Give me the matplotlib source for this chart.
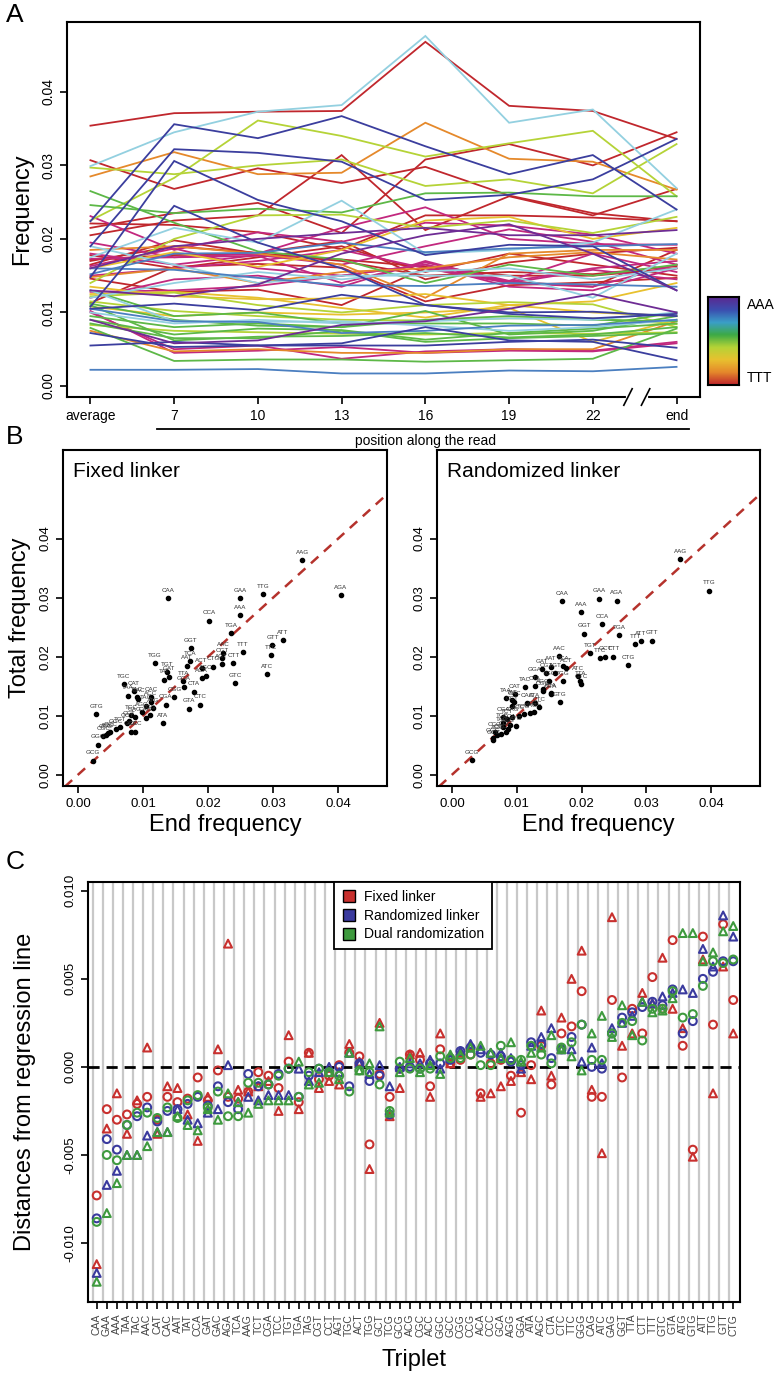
import numpy as np
import matplotlib
matplotlib.use("Agg")
import matplotlib.pyplot as plt
from matplotlib.colors import LinearSegmentedColormap
from matplotlib.transforms import blended_transform_factory

plt.rcParams['font.family'] = ['Liberation Sans', 'DejaVu Sans']

W, H = 775, 1376

def rect(x0, y0, x1, y1):
    return [x0 / W, 1 - y1 / H, (x1 - x0) / W, (y1 - y0) / H]

# ---------------- Panel A data ----------------
positions = ["average", "7", "10", "13", "16", "19", "22", "end"]

DR, MG, OR, YE = "#C0272D", "#C2287E", "#E5892B", "#E8C12F"
YG, GR, LB, BL = "#B5D337", "#5DB847", "#93D0E0", "#4B7FC0"
DB, PU = "#3B3E9E", "#6E2C94"

freq_lines = [
    (DR, [.0354, .0371, .0373, .0374, .0468, .0381, .0374, .0336]),
    (DR, [.0307, .0268, .0296, .0276, .0298, .0259, .0235, .0224]),
    (DR, [.0205, .0225, .0232, .0314, .0212, .0258, .0232, .0268]),
    (DR, [.0215, .0235, .0249, .0208, .0308, .0329, .0300, .0345]),
    (DR, [.0221, .0219, .0209, .0186, .0232, .0232, .0229, .0224]),
    (DR, [.0172, .0178, .0180, .0172, .0162, .0150, .0150, .0160]),
    (DR, [.0146, .0128, .0131, .0110, .0160, .0142, .0135, .0185]),
    (DR, [.0170, .0190, .0181, .0197, .0145, .0168, .0180, .0188]),
    (DR, [.0113, .0162, .0166, .0161, .0115, .0137, .0141, .0147]),
    (DR, [.0178, .0160, .0175, .0190, .0155, .0180, .0165, .0150]),
    (DR, [.0165, .0198, .0180, .0170, .0150, .0155, .0152, .0163]),
    (MG, [.0195, .0175, .0180, .0215, .0243, .0200, .0193, .0192]),
    (MG, [.0231, .0185, .0209, .0196, .0222, .0218, .0206, .0180]),
    (MG, [.0163, .0187, .0160, .0150, .0165, .0142, .0160, .0170]),
    (MG, [.0150, .0160, .0170, .0185, .0160, .0140, .0135, .0165]),
    (MG, [.0128, .0130, .0136, .0150, .0165, .0135, .0130, .0160]),
    (MG, [.0180, .0165, .0178, .0165, .0190, .0213, .0196, .0165]),
    (MG, [.0173, .0175, .0177, .0140, .0168, .0143, .0180, .0155]),
    (MG, [.0100, .0050, .0055, .0037, .0047, .0050, .0048, .0060]),
    (MG, [.0102, .0045, .0048, .0053, .0045, .0048, .0047, .0058]),
    (MG, [.0120, .0145, .0150, .0135, .0170, .0140, .0158, .0145]),
    (OR, [.0285, .0318, .0288, .0290, .0358, .0309, .0305, .0267]),
    (OR, [.0185, .0190, .0180, .0165, .0120, .0180, .0185, .0185]),
    (OR, [.0075, .0047, .0050, .0045, .0045, .0050, .0050, .0088]),
    (OR, [.0148, .0160, .0140, .0155, .0160, .0175, .0182, .0172]),
    (YE, [.0135, .0122, .0118, .0119, .0125, .0110, .0115, .0140]),
    (YE, [.0125, .0128, .0120, .0106, .0093, .0110, .0100, .0095]),
    (YE, [.0108, .0095, .0100, .0097, .0100, .0106, .0060, .0090]),
    (YE, [.0160, .0182, .0162, .0185, .0225, .0230, .0200, .0215]),
    (YG, [.0297, .0288, .0300, .0308, .0272, .0281, .0262, .0329]),
    (YG, [.0225, .0283, .0361, .0340, .0312, .0330, .0347, .0258]),
    (YG, [.0140, .0200, .0232, .0233, .0215, .0225, .0208, .0230]),
    (YG, [.0115, .0102, .0095, .0090, .0089, .0092, .0092, .0084]),
    (YG, [.0122, .0127, .0110, .0100, .0110, .0114, .0111, .0080]),
    (YG, [.0083, .0075, .0073, .0071, .0070, .0072, .0071, .0073]),
    (GR, [.0265, .0222, .0183, .0172, .0140, .0165, .0150, .0165]),
    (GR, [.0246, .0235, .0241, .0236, .0262, .0263, .0258, .0258]),
    (GR, [.0079, .0034, .0036, .0036, .0033, .0035, .0037, .0078]),
    (GR, [.0085, .0065, .0065, .0075, .0060, .0065, .0068, .0072]),
    (GR, [.0095, .0080, .0085, .0080, .0102, .0070, .0075, .0095]),
    (GR, [.0130, .0095, .0100, .0085, .0085, .0085, .0082, .0100]),
    (GR, [.0110, .0062, .0067, .0068, .0072, .0066, .0070, .0080]),
    (GR, [.0090, .0070, .0078, .0076, .0063, .0072, .0078, .0085]),
    (GR, [.0112, .0090, .0082, .0080, .0090, .0095, .0090, .0088]),
    (LB, [.0299, .0345, .0373, .0382, .0476, .0358, .0376, .0269]),
    (LB, [.0175, .0215, .0195, .0252, .0180, .0185, .0195, .0240]),
    (LB, [.0120, .0140, .0155, .0145, .0156, .0160, .0145, .0160]),
    (LB, [.0100, .0085, .0090, .0085, .0088, .0092, .0090, .0100]),
    (LB, [.0190, .0165, .0140, .0150, .0150, .0150, .0120, .0180]),
    (LB, [.0130, .0088, .0087, .0088, .0082, .0075, .0080, .0090]),
    (BL, [.0160, .0158, .0147, .0137, .0136, .0140, .0138, .0135]),
    (BL, [.0105, .0088, .0087, .0072, .0075, .0082, .0083, .0090]),
    (BL, [.0022, .0022, .0023, .0017, .0017, .0021, .0020, .0026]),
    (BL, [.0152, .0180, .0181, .0195, .0182, .0187, .0190, .0193]),
    (DB, [.0224, .0356, .0337, .0367, .0326, .0288, .0314, .0240]),
    (DB, [.0190, .0322, .0317, .0305, .0253, .0260, .0281, .0336]),
    (DB, [.0148, .0306, .0253, .0224, .0178, .0192, .0190, .0130]),
    (DB, [.0108, .0245, .0195, .0160, .0110, .0100, .0101, .0095]),
    (DB, [.0055, .0060, .0055, .0058, .0080, .0062, .0060, .0035]),
    (DB, [.0105, .0112, .0103, .0124, .0110, .0098, .0092, .0098]),
    (DB, [.0072, .0053, .0055, .0055, .0055, .0060, .0063, .0052]),
    (PU, [.0160, .0190, .0200, .0208, .0215, .0205, .0205, .0212]),
    (PU, [.0130, .0122, .0138, .0180, .0205, .0220, .0180, .0130]),
    (PU, [.0090, .0058, .0062, .0083, .0088, .0105, .0125, .0100]),
]

# ---------------- Panel B data ----------------
fixed_labels = ["AAG", "AGA", "CAA", "GAA", "TTG", "AAA", "CCA", "TGA", "ATT", "GTT", "TTC", "TTT",
                "ATC", "GTC", "GGT", "AAC", "CGT", "TGG", "TGT", "TAT", "TCA", "AAT", "CTG", "ACT",
                "AGT", "CTT", "AGC", "ACA", "TTA", "CTA", "GGA", "GAT", "TGC", "CAT", "TAA", "TAC",
                "GAC", "CAC", "ACC", "CGG", "CGA", "GTA", "CTC", "GTG", "AGG", "TCG", "CAG", "TCC",
                "GAG", "ATA", "CCT", "GCA", "CCC", "TCT", "GGC", "ACG", "CCG", "CGC", "GGG", "GCG",
                "ATG", "GCT", "GCC", "TAG"]
fixed_end = [.0345, .0404, .0139, .0249, .0284, .0249, .0201, .0235, .0315, .0299, .0296, .0253,
             .0290, .0242, .0173, .0223, .0222, .0118, .0137, .0133, .0172, .0167, .0208, .0190,
             .0221, .0239, .0197, .0190, .0162, .0178, .0163, .0140, .0070, .0086, .0077, .0091,
             .0093, .0113, .0112, .0148, .0135, .0170, .0187, .0028, .0098, .0110, .0104, .0082,
             .0087, .0130, .0078, .0081, .0088, .0064, .0058, .0046, .0043, .0039, .0031, .0023,
             .0115, .0076, .0050, .0105]
fixed_total = [.0363, .0304, .0299, .0299, .0306, .0270, .0261, .0240, .0228, .0220, .0203, .0208,
               .0170, .0155, .0214, .0207, .0198, .0189, .0174, .0161, .0192, .0185, .0183, .0180,
               .0187, .0189, .0168, .0164, .0159, .0141, .0149, .0166, .0154, .0142, .0134, .0131,
               .0129, .0131, .0124, .0132, .0119, .0112, .0119, .0103, .0106, .0101, .0097, .0101,
               .0098, .0087, .0091, .0073, .0073, .0081, .0077, .0071, .0068, .0065, .0051, .0024,
               .0113, .0087, .0072, .0117]

rand_labels = ["AAG", "TTG", "CAA", "GAA", "AGA", "AAA", "CCA", "GGT", "TGA", "TTT", "ATT", "GTT",
               "TGT", "TTC", "CTT", "GCT", "CTG", "AAC", "ATC", "GTC", "TTA", "GTG", "AAT", "TCA",
               "ACT", "GAT", "CGT", "AGT", "TGG", "TGC", "GGA", "TAC", "CTA", "CAT", "TAA", "TAT",
               "GAC", "CAC", "AGC", "CGG", "ACA", "ATA", "CTC", "GGC", "TCG", "ACC", "CCT", "GAG",
               "CAG", "TCT", "ATG", "CGA", "GCA", "AGG", "CCC", "TAG", "CGC", "ACG", "CCG", "GGG",
               "GCC", "TCC", "GCG", "GTA"]
rand_end = [.0352, .0396, .0170, .0227, .0254, .0199, .0232, .0204, .0258, .0283, .0291, .0308,
            .0213, .0228, .0249, .0236, .0272, .0165, .0194, .0199, .0198, .0166, .0152, .0172,
            .0176, .0139, .0145, .0159, .0171, .0150, .0128, .0112, .0128, .0097, .0083, .0093,
            .0096, .0116, .0140, .0140, .0152, .0128, .0134, .0127, .0111, .0103, .0093, .0121,
            .0093, .0085, .0099, .0079, .0089, .0087, .0083, .0078, .0075, .0070, .0066, .0063,
            .0064, .0078, .0031, .0152]
rand_total = [.0365, .0312, .0294, .0298, .0295, .0275, .0255, .0239, .0236, .0221, .0226, .0227,
              .0206, .0197, .0200, .0200, .0186, .0201, .0167, .0154, .0158, .0123, .0183, .0184,
              .0180, .0179, .0172, .0172, .0158, .0159, .0165, .0148, .0150, .0137, .0130, .0126,
              .0124, .0121, .0145, .0142, .0138, .0121, .0114, .0107, .0103, .0100, .0116, .0104,
              .0098, .0094, .0082, .0098, .0085, .0078, .0073, .0081, .0069, .0067, .0072, .0062,
              .0059, .0088, .0025, .0137]

# ---------------- Panel C data ----------------
triplets = ["CAA", "GAA", "AAA", "TAA", "TAC", "AAC", "CAT", "CAC", "AAT", "TAT", "CCA", "GAT",
            "GAC", "AGA", "TCA", "AAG", "TCT", "CGA", "TCC", "TGT", "TGA", "TAG", "CGT", "CCT",
            "AGT", "TGC", "ACT", "TGG", "GCT", "TCG", "GCG", "ACG", "CGC", "ACC", "GGC", "GCC",
            "CGG", "CCG", "ACA", "CCC", "GCA", "AGG", "GGA", "ATA", "AGC", "CTA", "CTC", "TTC",
            "GGG", "CAG", "ATC", "GAG", "GGT", "TTA", "CTT", "TTT", "GTC", "GTA", "ATG", "GTG",
            "ATT", "TTG", "GTT", "CTG"]

fixed_circ = [-.0073, -.0024, -.0030, -.0027, -.0021, -.0017, -.0030, -.0017, -.0020, -.0018, -.0006, -.0019,
              -.0002, -.0017, -.0018, -.0014, -.0003, -.0005, -.0012, .0003, -.0020, .0008, -.0007, -.0005,
              .0001, .0008, .0006, -.0044, -.0004, -.0017, -.0001, .0007, .0004, -.0011, .0010, .0002,
              .0004, .0007, -.0015, .0002, .0004, -.0005, -.0026, .0001, .0012, -.0010, .0019, .0023,
              .0043, -.0017, -.0017, .0038, -.0006, .0033, .0019, .0051, .0033, .0072, .0012, -.0047,
              .0074, .0024, .0081, .0038]
fixed_tri = [-.0112, -.0035, -.0015, -.0038, -.0019, .0011, -.0038, -.0011, -.0012, -.0027, -.0042, -.0017,
             .0010, .0070, -.0013, -.0014, -.0011, -.0008, -.0025, .0018, -.0024, .0008, -.0012, -.0008,
             -.0010, .0013, .0003, -.0058, .0025, -.0028, -.0012, .0007, .0008, -.0017, .0019, .0002,
             .0008, .0012, -.0017, -.0015, -.0011, -.0008, -.0003, -.0007, .0032, -.0005, .0028, .0050,
             .0066, -.0013, -.0049, .0085, .0012, .0019, .0042, .0036, .0062, .0033, .0022, -.0051,
             .0061, -.0015, .0057, .0019]
rand_circ = [-.0086, -.0041, -.0047, -.0033, -.0028, -.0023, -.0031, -.0025, -.0024, -.0021, -.0017, -.0022,
             -.0011, -.0020, -.0024, -.0004, -.0011, -.0010, -.0004, -.0001, -.0017, -.0005, -.0001, -.0003,
             .0000, -.0011, .0002, -.0008, -.0005, -.0027, -.0001, .0000, -.0001, .0002, .0002, .0004,
             .0009, .0011, .0008, .0007, .0006, .0003, .0001, .0014, .0013, .0005, .0010, .0017,
             .0024, .0000, -.0001, .0019, .0028, .0031, .0034, .0037, .0035, .0044, .0019, .0026,
             .0050, .0054, .0060, .0060]
rand_tri = [-.0117, -.0067, -.0059, -.0050, -.0050, -.0039, -.0037, -.0037, -.0024, -.0030, -.0032, -.0026,
            -.0024, .0001, -.0020, -.0017, -.0019, -.0016, -.0016, -.0016, -.0001, -.0008, -.0003, .0000,
            -.0003, .0008, .0002, -.0004, .0001, -.0011, .0000, .0002, .0002, .0004, -.0001, .0005,
            .0009, .0013, .0010, .0008, .0008, .0005, -.0001, .0012, .0017, .0022, .0010, .0010,
            .0003, .0011, .0002, .0022, .0025, .0029, .0037, .0036, .0040, .0042, .0044, .0042,
            .0067, .0057, .0086, .0074]
dual_circ = [-.0088, -.0050, -.0053, -.0033, -.0026, -.0026, -.0029, -.0023, -.0029, -.0019, -.0016, -.0023,
             -.0014, -.0028, -.0028, -.0009, -.0009, -.0010, -.0005, -.0001, -.0017, -.0003, -.0001, -.0003,
             -.0005, -.0014, -.0002, -.0003, -.0010, -.0025, .0003, -.0001, -.0001, -.0001, .0006, .0005,
             .0005, .0007, .0001, .0001, .0012, .0004, .0004, .0012, .0007, .0002, .0011, .0014,
             .0024, .0004, .0004, .0019, .0025, .0026, .0015, .0033, .0033, .0043, .0028, .0030,
             .0046, .0060, .0059, .0061]
dual_tri = [-.0122, -.0083, -.0066, -.0050, -.0050, -.0045, -.0037, -.0037, -.0028, -.0033, -.0036, -.0024,
            -.0030, -.0015, -.0020, -.0026, -.0021, -.0019, -.0019, -.0019, .0003, -.0010, -.0009, -.0003,
            -.0007, .0008, -.0002, .0002, .0023, -.0026, -.0003, .0005, -.0003, .0001, -.0004, .0007,
            .0007, .0011, .0012, .0008, .0005, .0014, .0003, .0008, .0011, .0018, .0010, .0006,
            -.0002, .0019, .0029, .0017, .0035, .0018, .0037, .0031, .0032, .0039, .0076, .0076,
            .0060, .0065, .0077, .0080]

RED, BLUE, GREEN = "#C8302E", "#3A3A9E", "#3E9A3E"

fig = plt.figure(figsize=(W / 100, H / 100), dpi=100)

# ---------------- Panel A ----------------
ax = fig.add_axes(rect(67, 22, 700, 397))
xs = np.arange(len(positions))
for col, vals in freq_lines:
    ax.plot(xs, vals, color=col, lw=1.3, solid_joinstyle="miter")
ax.set_xlim(-0.28, 7.28)
ax.set_ylim(-0.0015, 0.0495)
ax.set_xticks(xs)
ax.set_xticklabels(positions, fontsize=10)
ax.set_yticks([0, 0.01, 0.02, 0.03, 0.04])
ax.set_yticklabels(["0.00", "0.01", "0.02", "0.03", "0.04"], rotation=90, va="center", fontsize=10)
ax.tick_params(direction="out", length=5, width=1.2)
for s in ax.spines.values():
    s.set_linewidth(1.5)
ax.set_ylabel("Frequency", fontsize=17, labelpad=6)
# broken axis marks between 22 and end
tr = blended_transform_factory(ax.transData, ax.transAxes)
ax.plot([6.42, 6.63], [0, 0], color="white", lw=3, transform=tr, clip_on=False, zorder=5)
for bx in [6.42, 6.63]:
    ax.plot([bx - 0.05, bx + 0.05], [-0.022, 0.022], color="black", lw=1.2, transform=tr,
            clip_on=False, zorder=6)
ax.plot([0.8, 7.15], [-0.085, -0.085], color="black", lw=1.3, transform=tr, clip_on=False)
ax.text(4, -0.118, "position along the read", transform=tr, ha="center", va="center", fontsize=10)

# colour key
cmap = LinearSegmentedColormap.from_list(
    "key", ["#C0272D", "#E5892B", "#E8C12F", "#B5D337", "#3DAA45", "#3A9FC8", "#3B4FB0", "#5A2A92"])
cax = fig.add_axes(rect(708, 297, 739, 385))
cax.imshow(np.linspace(0, 1, 100)[:, None], cmap=cmap, aspect="auto", origin="lower")
cax.set_xticks([])
cax.set_yticks([])
for s in cax.spines.values():
    s.set_linewidth(1.5)
fig.text(747 / W, 1 - 305 / H, "AAA", fontsize=10, va="center")
fig.text(747 / W, 1 - 378 / H, "TTT", fontsize=10, va="center")

# ---------------- Panel B ----------------
def scatter_panel(rc, labels, endf, totf, title, show_ylabel):
    bx = fig.add_axes(rc)
    bx.plot([-0.01, 0.06], [-0.01, 0.06], color="#B5322C", lw=1.8, ls=(0, (4, 3)), zorder=1)
    bx.scatter(endf, totf, s=9, color="black", zorder=3)
    for lab, xv, yv in zip(labels, endf, totf):
        bx.text(xv, yv + 0.0009, lab, fontsize=4.5, ha="center", va="bottom", color="#333333", zorder=4)
    bx.set_xlim(-0.0023, 0.0475)
    bx.set_ylim(-0.0019, 0.055)
    ticks = [0, 0.01, 0.02, 0.03, 0.04]
    bx.set_xticks(ticks)
    bx.set_xticklabels(["0.00", "0.01", "0.02", "0.03", "0.04"], fontsize=9.5)
    bx.set_yticks(ticks)
    bx.set_yticklabels(["0.00", "0.01", "0.02", "0.03", "0.04"], rotation=90, va="center", fontsize=9.5)
    bx.tick_params(direction="out", length=5, width=1.2)
    for s in bx.spines.values():
        s.set_linewidth(1.5)
    bx.text(0.03, 0.965, title, transform=bx.transAxes, fontsize=15, va="top", ha="left")
    bx.set_xlabel("End frequency", fontsize=17, labelpad=3)
    if show_ylabel:
        bx.set_ylabel("Total frequency", fontsize=17, labelpad=6)
    return bx

scatter_panel(rect(63, 450, 387, 786), fixed_labels, fixed_end, fixed_total, "Fixed linker", True)
scatter_panel(rect(437, 450, 760, 786), rand_labels, rand_end, rand_total, "Randomized linker", False)

# ---------------- Panel C ----------------
cx = fig.add_axes(rect(88, 882, 740, 1302))
n = len(triplets)
idx = np.arange(n)
for i in idx:
    cx.axvline(i - 0.4, color="#C8C8C8", lw=1.6, zorder=0)
cx.axhline(0, color="black", lw=2, ls=(0, (4, 2.5)), zorder=1)
mk = dict(facecolors="none", s=32, linewidths=1.5, zorder=3)
cx.scatter(idx, fixed_circ, marker="o", edgecolors=RED, **mk)
cx.scatter(idx, fixed_tri, marker="^", edgecolors=RED, **mk)
cx.scatter(idx, rand_circ, marker="o", edgecolors=BLUE, **mk)
cx.scatter(idx, rand_tri, marker="^", edgecolors=BLUE, **mk)
cx.scatter(idx, dual_circ, marker="o", edgecolors=GREEN, **mk)
cx.scatter(idx, dual_tri, marker="^", edgecolors=GREEN, **mk)
cx.set_xlim(-0.86, 63.67)
cx.set_ylim(-0.01335, 0.0105)
cx.set_xticks(idx)
cx.set_xticklabels(triplets, rotation=90, fontsize=7.5, color="#444444")
cx.set_yticks([-0.01, -0.005, 0, 0.005, 0.01])
cx.set_yticklabels(["-0.010", "-0.005", "0.000", "0.005", "0.010"], rotation=90, va="center", fontsize=9.5)
cx.tick_params(direction="out", length=5, width=1.2)
for s in cx.spines.values():
    s.set_linewidth(1.5)
cx.set_xlabel("Triplet", fontsize=17, labelpad=8)
cx.set_ylabel("Distances from regression line", fontsize=17, labelpad=20)
handles = [plt.Line2D([], [], marker="s", ls="none", markersize=8, markerfacecolor=c,
                      markeredgecolor="black", markeredgewidth=1.0) for c in (RED, BLUE, GREEN)]
leg = cx.legend(handles, ["Fixed linker", "Randomized linker", "Dual randomization"],
                loc="upper left", bbox_to_anchor=(0.378, 1.0), borderaxespad=0, fontsize=10,
                frameon=True, fancybox=False, edgecolor="black", framealpha=1, handletextpad=0.6,
                borderpad=0.55, labelspacing=0.35, handlelength=1.0)
leg.get_frame().set_linewidth(1.3)

# panel letters
fig.text(6 / W, 1 - 15 / H, "A", fontsize=19, va="center")
fig.text(6 / W, 1 - 437 / H, "B", fontsize=19, va="center")
fig.text(6 / W, 1 - 862 / H, "C", fontsize=19, va="center")

fig.savefig("out.png", dpi=100)
